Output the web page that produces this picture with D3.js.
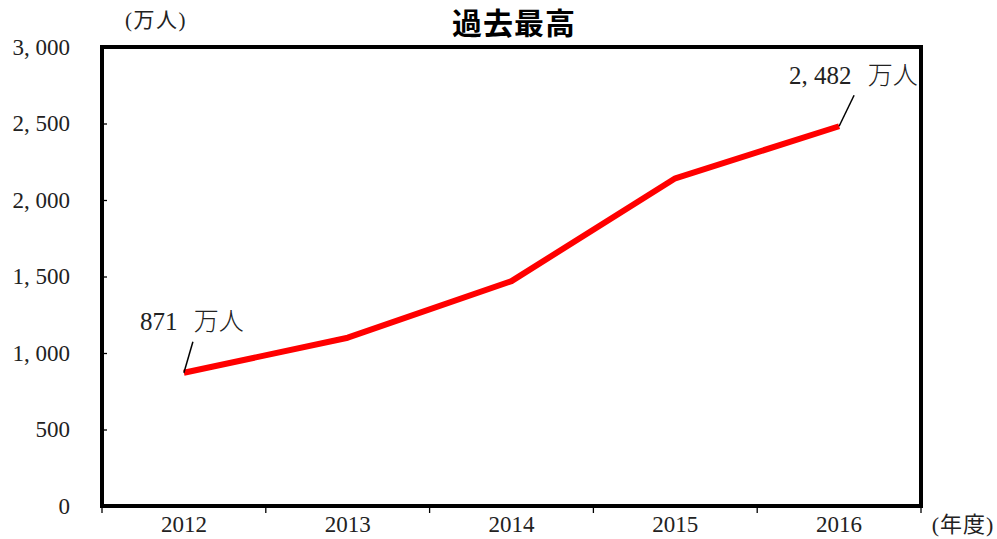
<!DOCTYPE html>
<html><head><meta charset="utf-8">
<script src="https://cdn.jsdelivr.net/npm/d3@7"></script>
<style>
html,body{margin:0;padding:0;background:#fff;}
svg{display:block;}
</style></head>
<body>
<svg id="chart" width="997" height="539"></svg>
<script>
const years = ["2012","2013","2014","2015","2016"];
const visitors = [871, 1100, 1470, 2142, 2482];
const yTicks = [0, 500, 1000, 1500, 2000, 2500, 3000];
const title = "過去最高";
const yUnit = "(万人)";
const xUnit = "(年度)";
const valueUnit = "万人";

(function () {
const svg = d3.select("#chart");
const serif = "'Liberation Serif','DejaVu Serif','Noto Sans CJK JP',serif";
const pLeft = 102, pRight = 921, pTop = 47, pBottom = 506;
const x = d3.scaleBand().domain(years).range([pLeft, pRight]);
const y = d3.scaleLinear().domain([0, 3000]).range([pBottom, pTop]);
const fmt = d3.format(",");

// title
svg.append("text").attr("x", 514).attr("y", 34).attr("text-anchor", "middle")
  .attr("font-family", "'Noto Sans CJK JP','Noto Sans',sans-serif").attr("font-weight", 700)
  .attr("font-size", 30).attr("letter-spacing", 1).attr("fill", "#000").text(title);

// y unit
svg.append("text").attr("x", 156).attr("y", 27).attr("text-anchor", "middle")
  .attr("font-family", serif).attr("font-size", 21).attr("letter-spacing", 1.5)
  .attr("fill", "#222").text(yUnit);

// y axis
const yAxis = d3.axisLeft(y).tickValues(yTicks).tickSize(-5).tickPadding(32)
  .tickFormat(d => fmt(d).replace(",", ", "));
const yg = svg.append("g").attr("transform", `translate(${pLeft},0)`).call(yAxis);
yg.select(".domain").remove();
yg.selectAll(".tick line").attr("stroke", "#000").attr("stroke-width", 1.3);
yg.selectAll(".tick text").attr("font-size", 23).attr("fill", "#222")
  .attr("font-family", serif).style("white-space", "pre");

// x axis labels
const xAxis = d3.axisBottom(x).tickSize(0).tickPadding(10);
const xg = svg.append("g").attr("transform", `translate(0,${pBottom})`).call(xAxis);
xg.select(".domain").remove();
xg.selectAll(".tick text").attr("font-family", serif)
  .attr("font-size", 23).attr("fill", "#222");

// x boundary ticks
const bounds = years.map(d => x(d)).concat([x.range()[1]]);
svg.append("g").selectAll("line").data(bounds).join("line")
  .attr("x1", d => d).attr("x2", d => d).attr("y1", pBottom).attr("y2", pBottom + 7)
  .attr("stroke", "#000").attr("stroke-width", 1.3);

// x unit
svg.append("text").attr("x", 963).attr("y", 532).attr("text-anchor", "middle")
  .attr("font-family", serif).attr("font-size", 22).attr("letter-spacing", 1)
  .attr("fill", "#222").text(xUnit);

// line
const line = d3.line().x((d, i) => x(years[i]) + x.bandwidth() / 2).y(d => y(d));
svg.append("path").datum(visitors).attr("d", line).attr("fill", "none")
  .attr("stroke", "#ff0000").attr("stroke-width", 6).attr("stroke-linejoin", "round");

// frame
svg.append("rect").attr("x", pLeft).attr("y", pTop).attr("width", pRight - pLeft).attr("height", pBottom - pTop)
  .attr("fill", "none").attr("stroke", "#000").attr("stroke-width", 4);

// annotations
const ann = [
  {i: 0, dx: 9, dy: -31, tx: 140, ty: 330},
  {i: 4, dx: 15, dy: -31, tx: 789, ty: 84}
];
ann.forEach(a => {
  const px = x(years[a.i]) + x.bandwidth() / 2, py = y(visitors[a.i]);
  svg.append("line").attr("x1", px).attr("y1", py).attr("x2", px + a.dx).attr("y2", py + a.dy)
    .attr("stroke", "#000").attr("stroke-width", 1.5);
  const t = svg.append("text").attr("x", a.tx).attr("y", a.ty).attr("font-size", 25).attr("fill", "#222")
    .style("white-space", "pre");
  t.append("tspan").attr("font-family", serif)
    .text(fmt(visitors[a.i]).replace(",", ", ") + " ");
  t.append("tspan").attr("dx", 10).attr("font-family", "'Noto Sans CJK JP',sans-serif").attr("font-weight", 300)
    .text(valueUnit);
});
})();
</script>
</body></html>
